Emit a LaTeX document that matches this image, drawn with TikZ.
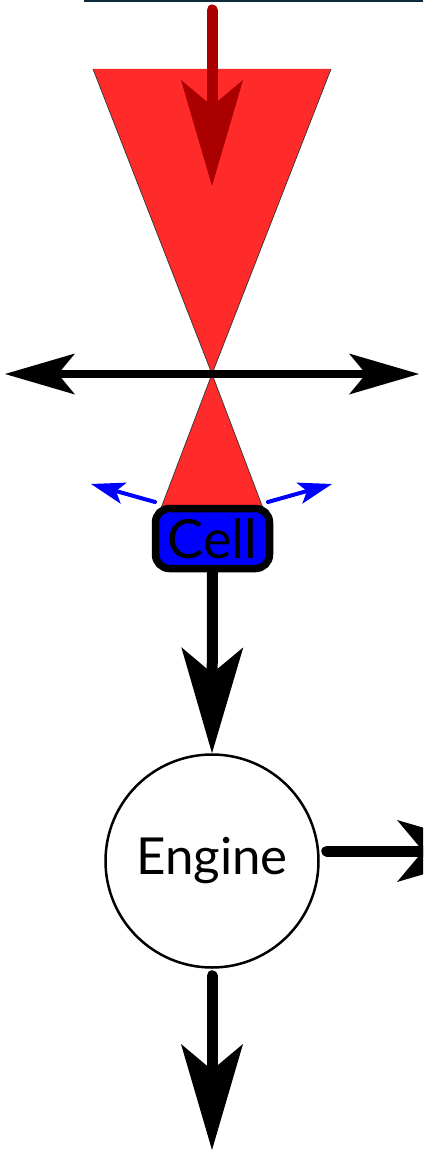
\documentclass[tikz,border=0pt]{standalone}
\usepackage{fontspec}
\setmainfont{Lato}
\usetikzlibrary{arrows.meta}
\definecolor{trired}{HTML}{FF2A2A}
\definecolor{arrowred}{HTML}{AA0000}
\definecolor{navyline}{HTML}{0B2B3D}
\definecolor{cellblue}{HTML}{0000FF}
\begin{document}
\begin{tikzpicture}[x=1pt,y=-1pt,
  bigtip/.style={-{Stealth[length=106pt,width=62pt,inset=26pt,line width=0pt]}},
  shaft/.style={line width=11pt,line cap=round},
  cone/.style={fill=trired,draw=none},
  coneedge/.style={draw=black!80,line width=0.7pt},
  cellbox/.style={draw=black,fill=cellblue,line width=7.5pt,rounded corners=14pt,
    minimum width=114pt,minimum height=60pt,inner sep=0pt,
    font=\fontsize{54}{60}\selectfont},
  enginenode/.style={circle,draw=black,fill=white,line width=2.5pt,minimum size=213pt,
    inner sep=0pt,font=\fontsize{51}{60}\selectfont},
  sidearrow/.style={draw=cellblue,line width=4pt,
    -{Stealth[length=34pt,width=22pt,inset=8pt,line width=0pt]}},
  horizarrow/.style={line width=8.5pt,
    {Stealth[length=70pt,width=41pt,inset=17pt,line width=0pt]}-{Stealth[length=70pt,width=41pt,inset=17pt,line width=0pt]}}
]
\clip (0,0) rectangle (423,1150);
% top rule
\draw[navyline,line width=4pt] (84,0) -- (423,0);
% cones
\coordinate (apex) at (212,374);
\coordinate (tl) at (93,69);
\coordinate (tr) at (331,69);
\coordinate (bl) at (158,516);
\coordinate (br) at (266,516);
\fill[cone] (tl) -- (tr) -- (apex) -- cycle;
\fill[cone] (apex) -- (br) -- (bl) -- cycle;
\draw[coneedge] (tl) -- (apex) -- (tr);
\draw[coneedge] (bl) -- (apex) -- (br);
% blue side arrows
\coordinate (lt) at (155,502);
\coordinate (lh) at (91,484);
\coordinate (rt) at (268,502);
\coordinate (rh) at (332,484);
\draw[sidearrow,line cap=round] (lt) -- (lh);
\draw[sidearrow,line cap=round] (rt) -- (rh);
% cell
\node[cellbox] (cell) at (212.5,538.5) {Cell};
% horizontal arrow
\coordinate (hl) at (5,374);
\coordinate (hr) at (419,374);
\draw[horizarrow] (hl) -- (hr);
% top red arrow
\coordinate (rs) at (212,10);
\coordinate (re) at (212,186);
\draw[shaft,arrowred,bigtip] (rs) -- (re);
% engine
\node[enginenode] (engine) at (212,861) {Engine};
\draw[shaft,bigtip] (cell.south) -- (engine.north);
\coordinate (rightend) at (503,851);
\coordinate (bottomend) at (212,1150);
\draw[shaft,bigtip,shorten <=7pt] (engine.east |- rightend) -- (rightend);
\draw[shaft,bigtip,shorten <=7pt] (engine.south) -- (bottomend);
\end{tikzpicture}
\end{document}
